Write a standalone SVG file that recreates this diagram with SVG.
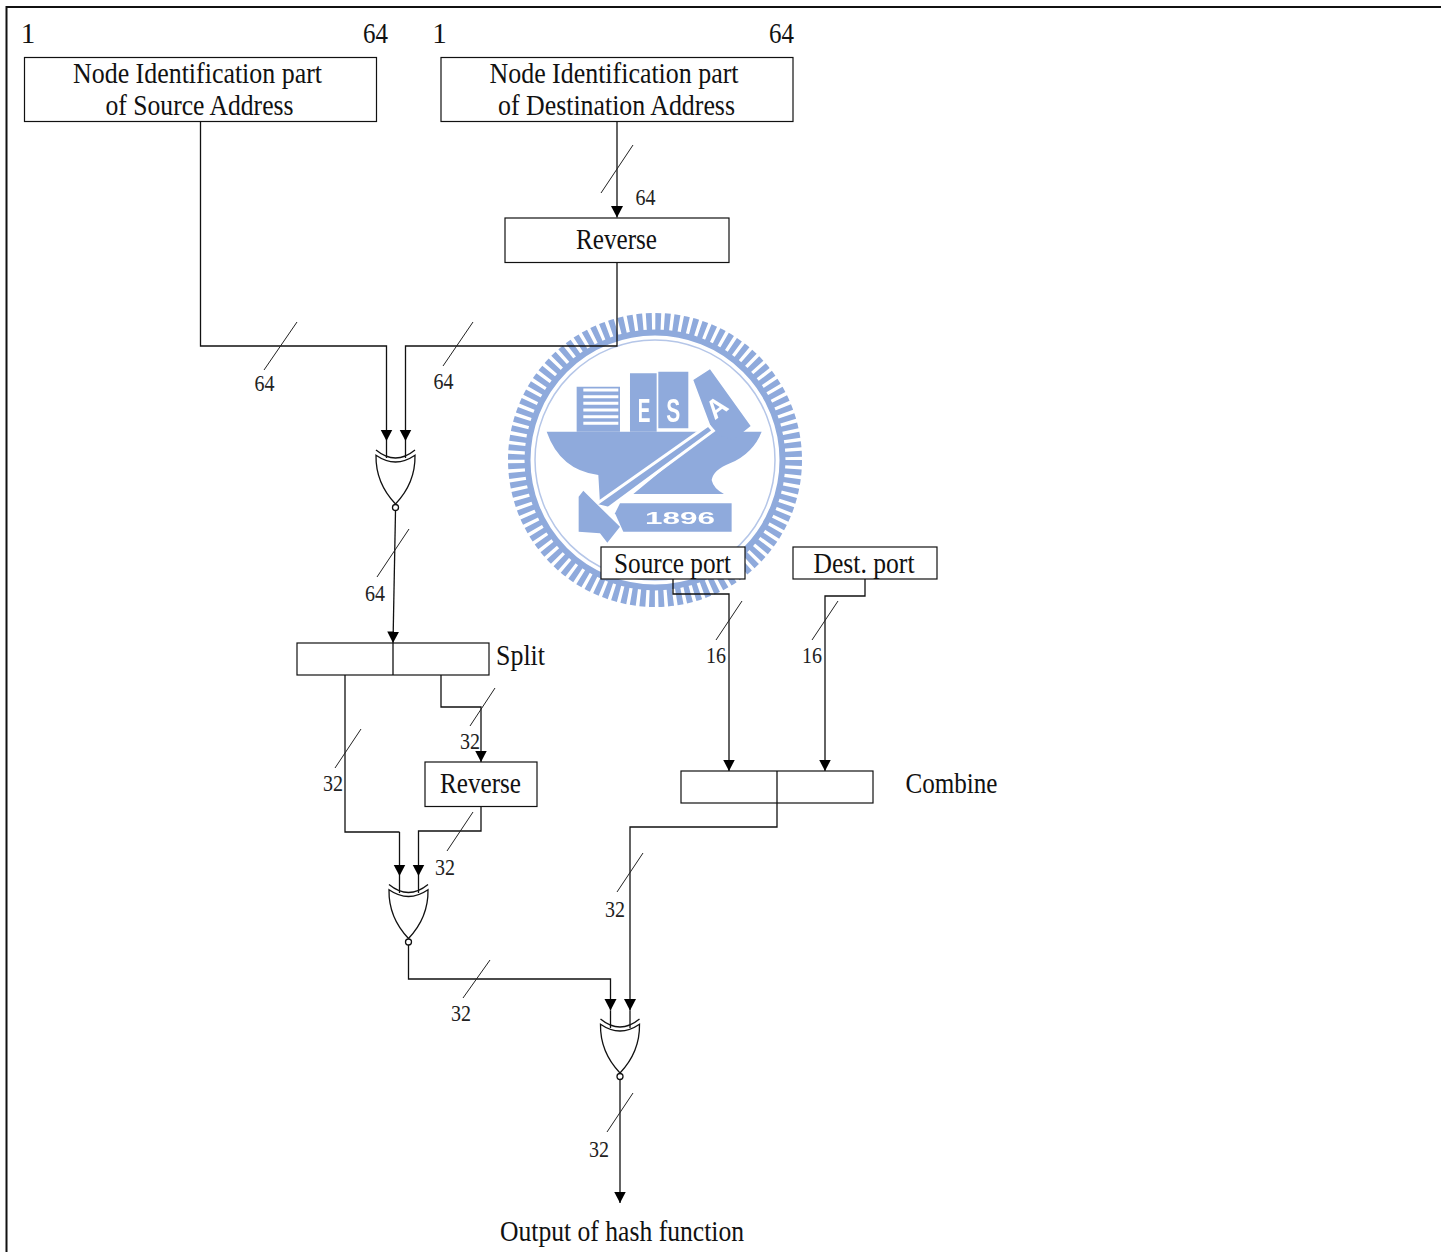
<svg xmlns="http://www.w3.org/2000/svg" xmlns:xlink="http://www.w3.org/1999/xlink" width="1441" height="1252" viewBox="0 0 1441 1252">
<style>
.bg{fill:#fff}
.box{fill:#fff;stroke:#111;stroke-width:1.2}
.ln{fill:none;stroke:#111;stroke-width:1.3}
.ar{fill:none;stroke:#111;stroke-width:1.3;marker-end:url(#arrow)}
.sl{fill:none;stroke:#222;stroke-width:1}
.gate{fill:#fff;stroke:#111;stroke-width:1.3}
.t{font-family:"Liberation Serif",serif;font-size:29px;fill:#111;text-anchor:middle}
.s{font-family:"Liberation Serif",serif;font-size:23px;fill:#222;text-anchor:middle}
.wm{fill:#8faadc}
.wt{font-family:"Liberation Sans",sans-serif;font-weight:bold;fill:#fff;text-anchor:middle}
</style>
<defs>
<marker id="arrow" markerUnits="userSpaceOnUse" markerWidth="13" markerHeight="14" refX="11.5" refY="7" orient="auto">
<path d="M0 1L11.5 7L0 13Z" fill="#000"/>
</marker>
<filter id="soft" x="-5%" y="-5%" width="110%" height="110%"><feGaussianBlur stdDeviation="0.7"/></filter>
<g id="xor">
<path class="ln" d="M-19.5 -7Q0 9 19.5 -7"/>
<path class="gate" d="M-19.5 -1.7Q0 11.7 19.5 -1.7Q20 26 0 47Q-20 26 -19.5 -1.7Z"/>
<circle class="gate" cx="0" cy="50.5" r="3"/>
</g>
</defs>
<rect class="bg" width="1441" height="1252"/>

<g id="watermark" filter="url(#soft)">
<circle cx="655" cy="460" r="137.5" fill="none" stroke="#8faadc" stroke-width="19" stroke-dasharray="5.6 3.4"/>
<circle cx="655" cy="460" r="127.5" fill="none" stroke="#8faadc" stroke-width="6"/>
<circle cx="655" cy="460" r="120" fill="none" stroke="#b5c6e8" stroke-width="1.5"/>
<g transform="translate(500 300) scale(.3333)">
<path class="wm" d="M140 395H785Q760 460 690 490Q640 510 635 540Q640 565 672 582H400L620 400L300 610L295 525Q180 510 140 395Z"/>
<path class="wm" d="M230 260H360V395H230ZM390 220H470V395H390ZM475 215H565V385H475ZM580 240L630 208L752 378L700 420L640 400Z"/>
<path d="M250 270H355M250 290H355M250 310H355M250 330H355M250 350H355M250 370H355" stroke="#fff" stroke-width="9" fill="none"/>
<path d="M388 270V390" stroke="#fff" stroke-width="3" stroke-dasharray="4 8" fill="none"/>
<path d="M285 615L625 375L640 392L325 625Z" fill="#8faadc" stroke="#fff" stroke-width="9"/>
<path class="wm" d="M236 590L250 572L290 612L360 680L322 728L300 700L236 695Z"/>
<path class="wm" d="M360 610H695V695H370L345 640Z"/>
<text class="wt" x="540" y="672" font-size="48" textLength="210" lengthAdjust="spacingAndGlyphs">1896</text>
<text class="wt" x="432" y="365" font-size="100" textLength="38" lengthAdjust="spacingAndGlyphs">E</text>
<text class="wt" x="520" y="365" font-size="100" textLength="42" lengthAdjust="spacingAndGlyphs">S</text>
<text class="wt" transform="translate(650 322) rotate(-38)" x="0" y="28" font-size="80">A</text>
</g>
</g>

<g id="connectors">
<path class="ar" d="M200.5 122V346H386.5V441"/>
<path class="ln" d="M386.5 441V458"/>
<path class="ar" d="M617 122V217.5"/>
<path class="ar" d="M617 263V346H405.5V441"/>
<path class="ln" d="M405.5 441V458"/>
<path class="ar" d="M395.5 511L393 643"/>
<path class="ln" d="M345 675V832H399.5"/>
<path class="ar" d="M399.5 832V876"/>
<path class="ln" d="M399.5 876V893"/>
<path class="ar" d="M441 675V707H481V762"/>
<path class="ar" d="M481 807V831H418.5V876"/>
<path class="ln" d="M418.5 876V893"/>
<path class="ar" d="M408.5 945V979H610.5V1010.5"/>
<path class="ln" d="M610.5 1010.5V1028"/>
<path class="ar" d="M673 579V594H729V771"/>
<path class="ar" d="M865 579V596H825V771"/>
<path class="ar" d="M777 803V827H630V1010.5"/>
<path class="ln" d="M630 1010.5V1028"/>
<path class="ar" d="M620 1080V1203"/>
<path class="sl" d="M601 193L633 145M264 370L297 322M443 366L473 322M377 577L409 529M470 726L495 688M335 768L361 729M447 851L473 812M463 998L490 960M716 640L742 601M812 640L838 601M617 892L643 853M607 1132L633 1093"/>
</g>

<g id="gate1"><use xlink:href="#xor" href="#xor" transform="translate(395.5 457)"/></g>
<g id="gate2"><use xlink:href="#xor" href="#xor" transform="translate(408.5 891.5)"/></g>
<g id="gate3"><use xlink:href="#xor" href="#xor" transform="translate(620 1026)"/></g>

<g id="source-address"><rect class="box" x="24.5" y="57.5" width="352" height="64"/>
<text class="t" x="197.5" y="82.5" textLength="249" lengthAdjust="spacingAndGlyphs">Node Identification part</text>
<text class="t" x="199.5" y="114.5" textLength="188" lengthAdjust="spacingAndGlyphs">of Source Address</text></g>
<g id="dest-address"><rect class="box" x="441" y="57.5" width="352" height="64"/>
<text class="t" x="614" y="82.5" textLength="249" lengthAdjust="spacingAndGlyphs">Node Identification part</text>
<text class="t" x="616.5" y="114.5" textLength="237" lengthAdjust="spacingAndGlyphs">of Destination Address</text></g>
<g id="reverse1"><rect class="box" x="505" y="218" width="224" height="44.5"/>
<text class="t" x="616.5" y="249" textLength="81" lengthAdjust="spacingAndGlyphs">Reverse</text></g>
<g id="split"><rect class="box" x="297" y="643" width="192" height="32"/><path class="ln" d="M393 643V675"/>
<text class="t" x="520.5" y="665" textLength="49" lengthAdjust="spacingAndGlyphs">Split</text></g>
<g id="reverse2"><rect class="box" x="425" y="762" width="112" height="44.5"/>
<text class="t" x="480.5" y="793" textLength="81" lengthAdjust="spacingAndGlyphs">Reverse</text></g>
<g id="source-port"><rect class="box" x="601" y="547" width="144" height="32"/>
<text class="t" x="672.5" y="573" textLength="117" lengthAdjust="spacingAndGlyphs">Source port</text></g>
<g id="dest-port"><rect class="box" x="793" y="547" width="144" height="32"/>
<text class="t" x="864" y="573" textLength="101" lengthAdjust="spacingAndGlyphs">Dest. port</text></g>
<g id="combine"><rect class="box" x="681" y="771" width="192" height="32"/><path class="ln" d="M777 771V803"/>
<text class="t" x="951.5" y="793" textLength="92" lengthAdjust="spacingAndGlyphs">Combine</text></g>

<g id="labels">
<text class="t" x="28" y="43">1</text>
<text class="t" x="375.5" y="43" textLength="25" lengthAdjust="spacingAndGlyphs">64</text>
<text class="t" x="439.5" y="43">1</text>
<text class="t" x="781.5" y="43" textLength="25" lengthAdjust="spacingAndGlyphs">64</text>
<text class="s" x="645.5" y="205" textLength="20" lengthAdjust="spacingAndGlyphs">64</text>
<text class="s" x="264.5" y="391" textLength="20" lengthAdjust="spacingAndGlyphs">64</text>
<text class="s" x="443.5" y="389" textLength="20" lengthAdjust="spacingAndGlyphs">64</text>
<text class="s" x="375" y="601" textLength="20" lengthAdjust="spacingAndGlyphs">64</text>
<text class="s" x="716" y="663" textLength="20" lengthAdjust="spacingAndGlyphs">16</text>
<text class="s" x="812" y="663" textLength="20" lengthAdjust="spacingAndGlyphs">16</text>
<text class="s" x="470" y="749" textLength="20" lengthAdjust="spacingAndGlyphs">32</text>
<text class="s" x="333" y="791" textLength="20" lengthAdjust="spacingAndGlyphs">32</text>
<text class="s" x="445" y="875" textLength="20" lengthAdjust="spacingAndGlyphs">32</text>
<text class="s" x="615" y="917" textLength="20" lengthAdjust="spacingAndGlyphs">32</text>
<text class="s" x="461" y="1021" textLength="20" lengthAdjust="spacingAndGlyphs">32</text>
<text class="s" x="599" y="1157" textLength="20" lengthAdjust="spacingAndGlyphs">32</text>
<text class="t" x="622" y="1241" textLength="244" lengthAdjust="spacingAndGlyphs">Output of hash function</text>
</g>

<path id="frame" d="M6.5 1252V7H1441" fill="none" stroke="#111" stroke-width="2"/>
</svg>
